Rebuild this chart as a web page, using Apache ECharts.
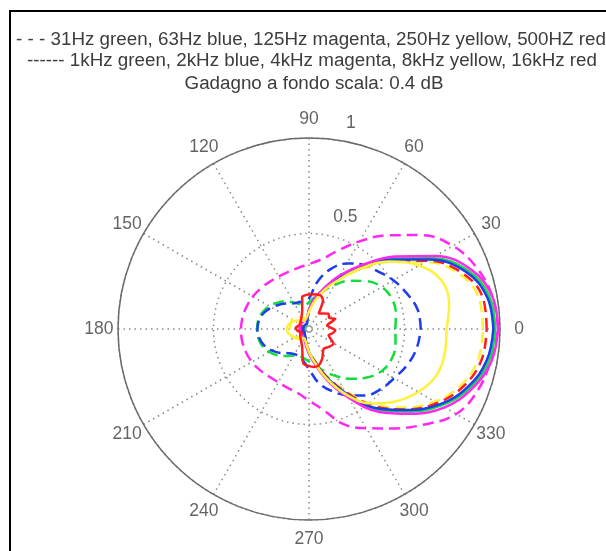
<!DOCTYPE html>
<html>
<head>
<meta charset="utf-8">
<script src="https://cdn.jsdelivr.net/npm/echarts@6/dist/echarts.min.js"></script>
<style>
html, body { margin: 0; padding: 0; background: #fff; }
#chart { width: 606px; height: 551px; }
</style>
</head>
<body>
<div id="chart"></div>
<script>
// angle of every sample, degrees (0 = front, counter-clockwise)
const angles = [0, 10, 20, 30, 40, 50, 60, 70, 80, 90, 100, 110, 120, 130, 140, 150, 160, 170, 180,
  190, 200, 210, 220, 230, 240, 250, 260, 270, 280, 290, 300, 310, 320, 330, 340, 350, 360]

// low bands (dashed)
const hz31 = [0.452, 0.462, 0.462, 0.44, 0.39, 0.33, 0.265, 0.21, 0.17, 0.14, 0.13, 0.14, 0.16, 0.19, 0.215, 0.24, 0.258, 0.27, 0.272,
  0.27, 0.26, 0.24, 0.215, 0.185, 0.16, 0.15, 0.155, 0.17, 0.195, 0.235, 0.285, 0.34, 0.395, 0.44, 0.46, 0.46, 0.452]
const hz63 = [0.585, 0.578, 0.545, 0.51, 0.47, 0.44, 0.396, 0.335, 0.25, 0.16, 0.148, 0.15, 0.155, 0.175, 0.2, 0.225, 0.25, 0.265, 0.27,
  0.265, 0.25, 0.225, 0.195, 0.165, 0.152, 0.152, 0.17, 0.21, 0.285, 0.345, 0.4, 0.455, 0.49, 0.515, 0.548, 0.573, 0.585]
const hz125 = [0.99, 0.975, 0.935, 0.87, 0.765, 0.64, 0.53, 0.435, 0.37, 0.34, 0.325, 0.318, 0.318, 0.322, 0.33, 0.34, 0.347, 0.353, 0.356,
  0.356, 0.352, 0.345, 0.335, 0.325, 0.322, 0.328, 0.34, 0.375, 0.43, 0.53, 0.6, 0.68, 0.78, 0.89, 0.94, 0.965, 0.99]
const hz250 = [0.91, 0.905, 0.84, 0.7, 0.545, 0.4, 0.295, 0.205, 0.145, 0.095, 0.06, 0.06, 0.07, 0.08, 0.09, 0.1, 0.1, 0.1, 0.1,
  0.1, 0.1, 0.09, 0.08, 0.07, 0.06, 0.06, 0.08, 0.115, 0.165, 0.255, 0.37, 0.515, 0.64, 0.76, 0.85, 0.9, 0.91]
const hz500 = [0.93, 0.925, 0.855, 0.715, 0.555, 0.41, 0.3, 0.21, 0.15, 0.095, 0.05, 0.04, 0.04, 0.04, 0.04, 0.04, 0.04, 0.04, 0.04,
  0.04, 0.04, 0.04, 0.04, 0.04, 0.045, 0.055, 0.08, 0.12, 0.17, 0.262, 0.38, 0.525, 0.655, 0.775, 0.865, 0.918, 0.93]

// high bands (solid)
const khz1 = [0.975, 0.96, 0.888, 0.742, 0.575, 0.43, 0.32, 0.22, 0.158, 0.1, 0.05, 0.03, 0.025, 0.025, 0.025, 0.025, 0.025, 0.025, 0.025,
  0.025, 0.025, 0.025, 0.03, 0.035, 0.045, 0.055, 0.085, 0.125, 0.18, 0.278, 0.4, 0.55, 0.672, 0.8, 0.897, 0.957, 0.975]
const khz2 = [0.965, 0.948, 0.875, 0.728, 0.565, 0.42, 0.31, 0.215, 0.155, 0.1, 0.05, 0.03, 0.03, 0.03, 0.03, 0.03, 0.03, 0.03, 0.03,
  0.03, 0.03, 0.03, 0.03, 0.035, 0.04, 0.05, 0.08, 0.12, 0.175, 0.27, 0.39, 0.54, 0.66, 0.79, 0.885, 0.945, 0.965]
const khz4 = [0.99, 0.975, 0.905, 0.765, 0.59, 0.44, 0.325, 0.225, 0.16, 0.1, 0.06, 0.05, 0.05, 0.05, 0.05, 0.05, 0.05, 0.05, 0.05,
  0.05, 0.05, 0.05, 0.05, 0.05, 0.055, 0.065, 0.09, 0.13, 0.19, 0.29, 0.415, 0.565, 0.69, 0.82, 0.91, 0.97, 0.99]
const khz8 = [0.72, 0.745, 0.74, 0.665, 0.55, 0.41, 0.29, 0.21, 0.14, 0.09, 0.065, 0.055, 0.05, 0.06, 0.07, 0.085, 0.1, 0.112, 0.115,
  0.112, 0.1, 0.085, 0.07, 0.06, 0.055, 0.06, 0.08, 0.12, 0.18, 0.28, 0.4, 0.51, 0.59, 0.66, 0.71, 0.722, 0.72]

// 16 kHz is lobed, so it has its own angles
const angles16k = [0, 11, 21, 29, 38, 48, 58, 64, 71, 88, 102, 110, 125, 141, 160, 175, 186, 200, 223,
  249, 261, 277, 285, 294, 307, 318, 329, 342, 350, 357, 360]
const khz16 = [0.13, 0.096, 0.148, 0.12, 0.13, 0.11, 0.095, 0.167, 0.186, 0.182, 0.172, 0.104, 0.07, 0.058, 0.055, 0.07, 0.063, 0.05, 0.062,
  0.1, 0.184, 0.2, 0.197, 0.17, 0.128, 0.14, 0.15, 0.108, 0.125, 0.138, 0.13]

const angleTicks = [0, 30, 60, 90, 120, 150, 180, 210, 240, 270, 300, 330]
const radiusTicks = ['0.5', '1']

const font = 'Liberation Sans, Arial, sans-serif'
const textColor = '#3c3c3c'
const dash = [11, 6]

const pairs = (rs, as) => rs.map((r, i) => [r, as[i]])

const curve = (name, rs, as, color, dashed) => ({
  name: name,
  type: 'line',
  coordinateSystem: 'polar',
  showSymbol: false,
  smooth: as === angles16k ? 0.2 : 0.4,
  silent: true,
  lineStyle: {
    color: color,
    width: 2.5,
    type: dashed ? dash : 'solid',
  },
  data: pairs(rs, as),
})

const titleStyle = { fontSize: 18.8, fontWeight: 'normal', color: textColor, fontFamily: font }

const chart = echarts.init(document.getElementById('chart'))
const option = {
  backgroundColor: '#fff',
  animation: false,
  textStyle: { fontFamily: font },
  title: [
    {
      text: '- - - 31Hz green, 63Hz blue, 125Hz magenta, 250Hz yellow, 500HZ red',
      left: 306,
      top: 25,
      textAlign: 'center',
      textStyle: titleStyle,
    },
    {
      text: '------ 1kHz green, 2kHz blue, 4kHz magenta, 8kHz yellow, 16kHz red',
      left: 307,
      top: 46,
      textAlign: 'center',
      textStyle: titleStyle,
    },
    {
      text: 'Gadagno a fondo scala: 0.4 dB',
      left: 309,
      top: 69,
      textAlign: 'center',
      textStyle: titleStyle,
    },
  ],
  graphic: [
    {
      type: 'polyline',
      shape: { points: [[10, 551], [10, 11], [606, 11]] },
      style: { stroke: '#000', lineWidth: 2, fill: null },
      silent: true,
    },
  ],
  polar: {
    center: [309, 329],
    radius: 191,
  },
  angleAxis: {
    type: 'value',
    min: 0,
    max: 360,
    interval: 30,
    startAngle: 0,
    clockwise: false,
    axisLine: { lineStyle: { color: '#6a6a6a', width: 1.5 } },
    axisTick: { show: false },
    axisLabel: { show: false },
    splitLine: { show: true, lineStyle: { color: '#8a8a8a', width: 1.5, type: [1.5, 4] } },
  },
  radiusAxis: {
    min: 0,
    max: 1,
    interval: 0.5,
    axisLine: { show: false },
    axisTick: { show: false },
    axisLabel: { show: false },
    splitLine: { show: true, lineStyle: { color: '#8a8a8a', width: 1.5, type: [1.5, 4] } },
  },
  series: [
    curve('31Hz', hz31, angles, '#14dc3c', true),
    curve('63Hz', hz63, angles, '#1e3cf0', true),
    curve('125Hz', hz125, angles, '#ff28f0', true),
    curve('250Hz', hz250, angles, '#fff03c', true),
    curve('500Hz', hz500, angles, '#ff1e1e', true),
    curve('1kHz', khz1, angles, '#14dc3c', false),
    curve('2kHz', khz2, angles, '#1e3cf0', false),
    curve('4kHz', khz4, angles, '#ff28f0', false),
    curve('8kHz', khz8, angles, '#fff03c', false),
    curve('16kHz', khz16, angles16k, '#ff1e1e', false),
    {
      name: 'angle labels',
      type: 'scatter',
      coordinateSystem: 'polar',
      clip: false,
      silent: true,
      symbolSize: 1,
      itemStyle: { color: 'rgba(0,0,0,0)' },
      label: {
        show: true,
        position: 'inside',
        formatter: (p) => String(p.data[1]),
        fontSize: 17.5,
        color: textColor,
        fontFamily: font,
      },
      data: angleTicks.map((a) => [1.1, a]),
    },
    {
      name: 'radius labels',
      type: 'scatter',
      coordinateSystem: 'polar',
      clip: false,
      silent: true,
      symbolSize: 1,
      itemStyle: { color: 'rgba(0,0,0,0)' },
      label: {
        show: true,
        position: 'inside',
        formatter: (p) => p.data[2],
        fontSize: 17.5,
        color: textColor,
        fontFamily: font,
      },
      data: [
        [0.616, 72, radiusTicks[0]],
        [1.1, 78.5, radiusTicks[1]],
      ],
    },
  ],
}
chart.setOption(option)
</script>
</body>
</html>
